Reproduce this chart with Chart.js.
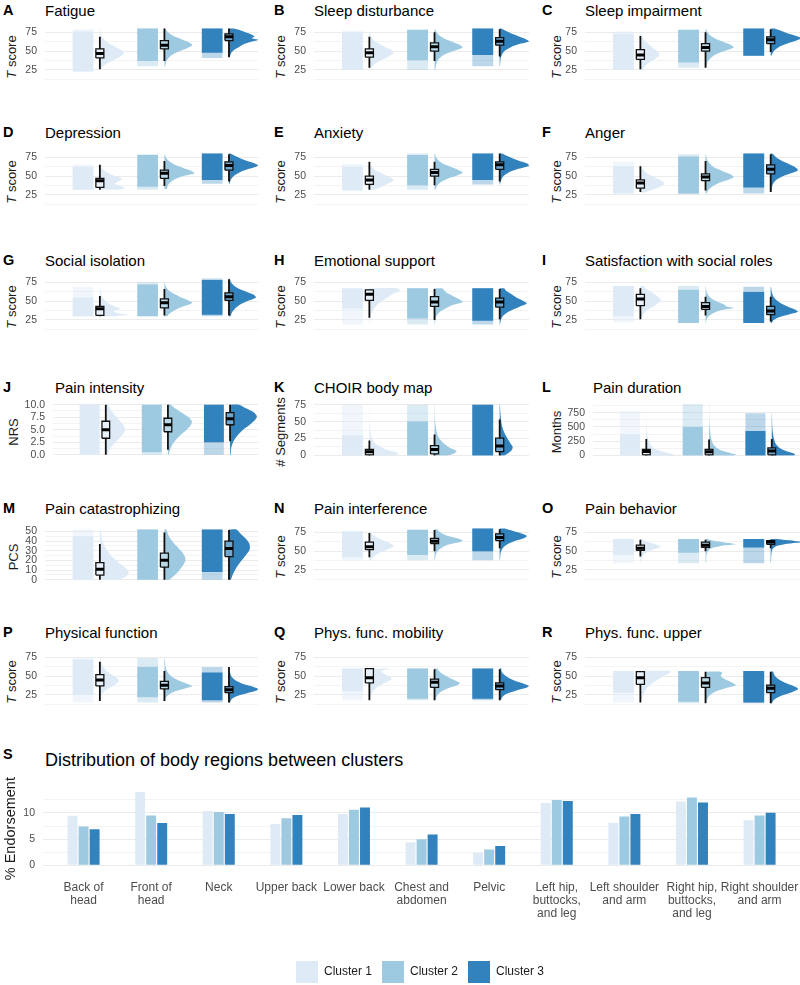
<!DOCTYPE html>
<html><head><meta charset="utf-8">
<script src="https://cdn.jsdelivr.net/npm/chart.js@4.4.1/dist/chart.umd.min.js"></script>
<style>
html,body{margin:0;padding:0;}
body{width:800px;height:985px;position:relative;overflow:hidden;background:#fff;font-family:"Liberation Sans",Arial,sans-serif;}
.lt{position:absolute;font-weight:bold;font-size:14.5px;line-height:15px;color:#000;}
.tt{position:absolute;font-size:15px;line-height:15px;color:#000;white-space:nowrap;}
.ax{position:absolute;font-size:13px;line-height:13px;color:#1a1a1a;white-space:nowrap;transform:translate(-50%,-50%) rotate(-90deg);}
.big{position:absolute;font-size:18px;line-height:18px;color:#000;white-space:nowrap;}
</style></head><body>
<script>
// ---------------- DATA ----------------
const clusterLabels = ['Cluster 1', 'Cluster 2', 'Cluster 3'];
const panelLetters = ['A','B','C','D','E','F','G','H','I','J','K','L','M','N','O','P','Q','R'];
const panelTitles = ['Fatigue','Sleep disturbance','Sleep impairment','Depression','Anxiety','Anger',
  'Social isolation','Emotional support','Satisfaction with social roles','Pain intensity','CHOIR body map',
  'Pain duration','Pain catastrophizing','Pain interference','Pain behavior','Physical function',
  'Phys. func. mobility','Phys. func. upper'];
const panelAxisTitles = ['T score','T score','T score','T score','T score','T score','T score','T score','T score',
  'NRS','# Segments','Months','PCS','T score','T score','T score','T score','T score'];
const panelScaleKind = ['T','T','T','T','T','T','T','T','T','NRS','SEG','MON','PCS','T','T','T','T','T'];

// tick labels / gridlines per scale kind
const tTicks = [25, 50, 75];             const tGrid = [12.5, 25, 37.5, 50, 62.5, 75];
const nrsTicks = [0, 2.5, 5, 7.5, 10];   const nrsGrid = [0, 1.25, 2.5, 3.75, 5, 6.25, 7.5, 8.75, 10];
const segTicks = [0, 25, 50, 75];        const segGrid = [0, 12.5, 25, 37.5, 50, 62.5, 75];
const monTicks = [0, 250, 500, 750];     const monGrid = [0, 125, 250, 375, 500, 625, 750, 875];
const pcsTicks = [0, 10, 20, 30, 40, 50]; const pcsGrid = [0, 5, 10, 15, 20, 25, 30, 35, 40, 45, 50];

// box stats per cluster: [lower whisker, Q1, median, Q3, upper whisker]
// cloud per cluster: [min, dense low, dense high, max]
// violin per cluster: [[value, relative density], ...]
const boxA = [[26,41,47,53,69],[37,53,58,64,80],[42,64,69,73,80]];
const cloudA = [[23,23,76,79],[30,37,80,80],[41,48,80,80]];
const violinA = [
 [[25,0.02],[30,0.1],[35,0.3],[40,0.55],[45,0.75],[48,0.8],[52,0.7],[56,0.5],[60,0.3],[65,0.15],[70,0.06],[75,0.03],[80,0.01]],
 [[30,0.02],[35,0.05],[40,0.12],[45,0.25],[50,0.5],[55,0.8],[58,0.93],[62,0.8],[66,0.55],[70,0.3],[75,0.12],[80,0.03]],
 [[42,0.02],[48,0.08],[52,0.18],[56,0.35],[60,0.55],[63,0.8],[65,0.97],[67,0.75],[69,0.85],[72,0.75],[75,0.55],[78,0.35],[80,0.15]]];
const boxB = [[28,42,48,53,69],[37,50,56,61,75],[43,58,63,68,79]];
const cloudB = [[25,25,75,77],[25,38,78,79],[30,45,80,80]];
const violinB = [
 [[25,0.03],[30,0.1],[35,0.25],[40,0.5],[45,0.72],[48,0.8],[52,0.72],[56,0.5],[60,0.3],[65,0.13],[70,0.05],[77,0.01]],
 [[25,0.02],[30,0.04],[35,0.08],[40,0.15],[45,0.3],[50,0.6],[55,0.93],[58,0.85],[62,0.6],[66,0.35],[70,0.18],[75,0.07],[79,0.02]],
 [[30,0.01],[40,0.03],[45,0.07],[50,0.15],[55,0.35],[60,0.7],[63,0.97],[66,0.85],[70,0.6],[74,0.35],[78,0.15],[80,0.05]]];
const boxC = [[26,39,45,52,70],[28,50,55,60,75],[49,60,65,69,79]];
const cloudC = [[25,25,73,76],[28,35,78,79],[44,44,80,80]];
const violinC = [
 [[25,0.05],[30,0.15],[35,0.3],[40,0.5],[45,0.63],[50,0.55],[55,0.4],[60,0.25],[65,0.12],[70,0.05],[76,0.01]],
 [[28,0.02],[35,0.06],[40,0.15],[45,0.3],[50,0.6],[55,0.93],[58,0.85],[62,0.6],[66,0.35],[70,0.18],[75,0.06],[79,0.02]],
 [[44,0.02],[50,0.1],[55,0.25],[60,0.55],[64,0.85],[67,1.0],[70,0.85],[73,0.6],[76,0.4],[79,0.2],[80,0.1]]];
const boxD = [[32,35,44,47,65],[37,47,54,58,70],[43,58,64,69,79]];
const cloudD = [[32,32,62,65],[32,36,78,79],[40,45,80,80]];
const violinD = [
 [[32,0.6],[34,0.83],[37,0.7],[40,0.5],[43,0.6],[46,0.75],[49,0.6],[52,0.4],[56,0.2],[60,0.08],[65,0.02]],
 [[33,0.08],[36,0.1],[40,0.15],[45,0.3],[50,0.6],[54,1.0],[57,0.9],[61,0.6],[65,0.35],[70,0.15],[75,0.05],[79,0.01]],
 [[40,0.02],[45,0.06],[50,0.15],[55,0.35],[60,0.7],[64,0.97],[67,0.85],[70,0.6],[74,0.35],[78,0.15],[80,0.05]]];
const boxE = [[32,39,45,50,69],[38,50,55,59,69],[43,59,65,69,80]];
const cloudE = [[31,31,62,66],[32,38,78,80],[39,45,80,80]];
const violinE = [
 [[32,0.15],[36,0.4],[40,0.6],[44,0.8],[47,0.75],[50,0.6],[54,0.4],[58,0.2],[62,0.08],[66,0.02]],
 [[32,0.02],[37,0.08],[42,0.2],[47,0.45],[52,0.8],[55,0.93],[58,0.8],[62,0.55],[66,0.3],[70,0.15],[75,0.05],[80,0.01]],
 [[39,0.01],[45,0.05],[50,0.12],[55,0.3],[60,0.65],[64,0.97],[67,0.9],[70,0.65],[74,0.4],[78,0.18],[80,0.08]]];
const boxF = [[29,34,41,45,63],[31,44,49,53,70],[29,53,59,65,79]];
const cloudF = [[27,27,63,69],[26,27,76,79],[27,35,80,80]];
const violinF = [
 [[28,0.1],[32,0.4],[36,0.65],[40,0.8],[44,0.7],[48,0.5],[52,0.3],[56,0.15],[60,0.07],[65,0.02],[69,0.01]],
 [[27,0.03],[32,0.1],[37,0.25],[42,0.5],[46,0.8],[49,0.93],[53,0.8],[57,0.55],[61,0.3],[66,0.15],[72,0.05],[79,0.01]],
 [[29,0.02],[35,0.04],[40,0.08],[45,0.18],[50,0.4],[55,0.75],[58,0.9],[62,0.8],[66,0.6],[70,0.38],[75,0.18],[80,0.05]]];
const boxG = [[30,31,40,43,57],[31,41,48,53,66],[31,51,56,61,79]];
const cloudG = [[30,30,55,69],[30,30,72,75],[30,32,78,80]];
const violinG = [
 [[30,0.5],[32,0.93],[34,0.6],[37,0.45],[40,0.7],[43,0.5],[47,0.3],[52,0.15],[57,0.06],[63,0.02],[69,0.01]],
 [[30,0.1],[33,0.15],[37,0.3],[42,0.55],[46,0.85],[48,0.93],[52,0.75],[56,0.5],[60,0.3],[65,0.12],[70,0.04],[75,0.01]],
 [[30,0.05],[35,0.1],[40,0.2],[45,0.35],[50,0.6],[55,0.9],[58,0.85],[62,0.6],[66,0.35],[70,0.18],[75,0.07],[80,0.02]]];
const boxH = [[28,51,59,65,65],[25,43,49,56,66],[26,42,49,54,66]];
const cloudH = [[19,40,67,67],[19,27,67,67],[19,24,67,67]];
const violinH = [
 [[19,0.01],[25,0.02],[30,0.04],[35,0.08],[40,0.15],[45,0.25],[50,0.4],[55,0.6],[60,0.8],[63,1.0],[67,0.95]],
 [[19,0.01],[25,0.03],[30,0.06],[35,0.15],[40,0.35],[45,0.6],[49,0.93],[53,0.8],[57,0.6],[61,0.4],[65,0.3],[67,0.25]],
 [[19,0.01],[25,0.04],[30,0.1],[35,0.25],[40,0.5],[45,0.8],[47,0.9],[51,0.75],[55,0.55],[60,0.35],[64,0.2],[67,0.15]]];
const boxI = [[26,44,53,59,67],[31,39,43,48,56],[23,32,37,43,56]];
const cloudI = [[22,30,70,70],[21,21,65,70],[21,21,62,69]];
const violinI = [
 [[26,0.02],[30,0.06],[35,0.15],[40,0.3],[45,0.5],[50,0.65],[53,0.67],[57,0.55],[62,0.35],[66,0.2],[70,0.1]],
 [[21,0.01],[25,0.03],[30,0.1],[34,0.25],[38,0.5],[41,0.93],[43,0.7],[46,0.6],[50,0.35],[55,0.15],[60,0.06],[65,0.02],[70,0.01]],
 [[21,0.03],[25,0.1],[29,0.3],[33,0.65],[36,0.9],[39,0.8],[43,0.55],[47,0.35],[52,0.18],[57,0.08],[63,0.03],[69,0.01]]];
const boxJ = [[0,3.3,5,6.7,10],[1,4.6,6,7.3,10],[2.7,6,7.2,8.4,10]];
const cloudJ = [[0,0,10,10],[0,0.5,10,10],[0,2.5,10,10]];
const violinJ = [
 [[0,0.08],[1,0.12],[2,0.25],[3,0.42],[4,0.58],[5,0.67],[6,0.6],[7,0.45],[8,0.3],[9,0.17],[10,0.08]],
 [[0,0.02],[1,0.08],[2,0.15],[3,0.28],[4,0.45],[5,0.65],[6,0.8],[6.7,0.83],[7.5,0.72],[8.5,0.45],[9.5,0.2],[10,0.1]],
 [[0,0.02],[1,0.03],[2,0.07],[3,0.15],[4,0.28],[5,0.45],[6,0.68],[7,0.87],[7.7,0.93],[8.5,0.82],[9.3,0.55],[10,0.3]]];
const boxK = [[0,0.9,5.3,8.8,22],[0,2.2,8.8,14.5,31],[0,5.7,14,25.5,53]];
const cloudK = [[0,0,30,75],[0,0,50,75],[0,0,75,75]];
const violinK = [
 [[0,0.7],[2,0.97],[5,0.85],[8,0.6],[12,0.4],[16,0.25],[20,0.15],[25,0.09],[30,0.05],[40,0.02],[50,0.01],[75,0.005]],
 [[0,0.4],[3,0.65],[6,0.73],[9,0.62],[13,0.45],[18,0.3],[24,0.18],[30,0.1],[40,0.05],[50,0.02],[60,0.01],[75,0.005]],
 [[0,0.15],[4,0.3],[8,0.4],[12,0.43],[16,0.38],[22,0.3],[28,0.22],[35,0.14],[45,0.07],[55,0.04],[65,0.02],[75,0.01]]];
const boxL = [[0,10,68,105,288],[0,10,63,105,278],[0,10,79,131,288]];
const cloudL = [[0,0,370,780],[0,0,500,900],[0,0,430,740]];
const violinL = [
 [[0,0.9],[15,0.97],[40,0.75],[80,0.45],[120,0.28],[170,0.17],[250,0.09],[350,0.04],[500,0.015],[780,0.005]],
 [[0,0.85],[15,0.93],[40,0.75],[80,0.45],[130,0.27],[200,0.14],[300,0.07],[450,0.03],[600,0.01],[900,0.005]],
 [[0,0.75],[20,0.8],[50,0.65],[90,0.42],[140,0.25],[200,0.14],[300,0.07],[450,0.025],[740,0.005]]];
const boxM = [[0,4.9,11,17.8,37],[0,13.2,20.2,27.6,49],[0,24,32.5,40,51.5]];
const cloudM = [[0,0,45,52],[0,0,52,52],[0,8,52,52]];
const violinM = [
 [[0,0.6],[3,0.85],[7,0.97],[11,0.9],[15,0.75],[20,0.55],[25,0.38],[30,0.25],[35,0.15],[42,0.07],[52,0.02]],
 [[0,0.15],[5,0.35],[10,0.5],[15,0.62],[20,0.7],[25,0.67],[30,0.55],[35,0.4],[40,0.26],[45,0.15],[52,0.06]],
 [[0,0.06],[5,0.12],[10,0.2],[15,0.3],[20,0.42],[25,0.55],[30,0.67],[34,0.7],[38,0.67],[43,0.55],[48,0.38],[52,0.25]]];
const boxN = [[42,52,56,62,74],[50,60,63,67,78],[54,64,68,73,79]];
const cloudN = [[38,42,76,77],[38,45,78,79],[38,50,80,80]];
const violinN = [
 [[38,0.05],[42,0.12],[46,0.25],[50,0.45],[54,0.7],[57,0.8],[60,0.7],[64,0.45],[68,0.25],[72,0.1],[77,0.03]],
 [[38,0.01],[45,0.04],[50,0.1],[55,0.25],[59,0.5],[62,0.85],[64,0.93],[67,0.75],[70,0.45],[74,0.22],[79,0.07]],
 [[38,0.01],[45,0.02],[50,0.05],[55,0.12],[60,0.3],[64,0.55],[67,0.8],[70,0.9],[73,0.75],[76,0.5],[79,0.25],[80,0.15]]];
const boxO = [[43,51,54,58,65],[50,55,58,62,65],[54,59,62,64,65]];
const cloudO = [[34,45,66,66],[34,48,66,66],[34,55,66,66]];
const violinO = [
 [[35,0.02],[42,0.05],[47,0.15],[51,0.35],[54,0.55],[56,0.67],[59,0.5],[62,0.25],[65,0.08],[66,0.03]],
 [[35,0.02],[45,0.03],[50,0.08],[54,0.2],[57,0.5],[59,1.0],[61,0.7],[63,0.35],[65,0.12],[66,0.05]],
 [[35,0.01],[45,0.02],[52,0.05],[56,0.15],[59,0.45],[61,0.85],[62,1.0],[63.5,0.8],[65,0.4],[66,0.2]]];
const boxP = [[17,37,45,52,69],[17,33,38,43,57],[15,28,32,36,62]];
const cloudP = [[15,25,72,74],[15,22,62,74],[15,18,55,62]];
const violinP = [
 [[17,0.02],[25,0.06],[30,0.15],[35,0.35],[40,0.55],[44,0.63],[48,0.55],[52,0.4],[57,0.22],[63,0.1],[69,0.04],[74,0.01]],
 [[16,0.02],[22,0.06],[27,0.2],[31,0.45],[35,0.8],[37,0.93],[40,0.75],[44,0.5],[48,0.3],[53,0.15],[60,0.05],[74,0.01]],
 [[15,0.03],[20,0.1],[24,0.3],[28,0.65],[31,0.93],[33,0.97],[36,0.8],[40,0.45],[45,0.2],[50,0.08],[56,0.03],[62,0.01]]];
const boxQ = [[18,41,48,60,60],[18,35,42,46,59],[18,32,37,41,59]];
const cloudQ = [[18,30,60,60],[18,20,60,60],[18,20,60,60]];
const violinQ = [
 [[18,0.02],[25,0.06],[30,0.12],[35,0.25],[40,0.45],[45,0.7],[48,0.73],[52,0.55],[56,0.4],[59,0.6],[60,0.7]],
 [[18,0.02],[24,0.08],[29,0.2],[34,0.45],[38,0.75],[41,0.83],[45,0.65],[50,0.4],[55,0.2],[59,0.1],[60,0.12]],
 [[18,0.03],[23,0.1],[27,0.25],[31,0.55],[35,0.9],[37,0.97],[40,0.8],[44,0.5],[49,0.25],[54,0.1],[58,0.05],[60,0.06]]];
const boxR = [[15,39,48,56,56],[14,35,41,48,56],[14,28,34,38,56]];
const cloudR = [[15,28,57,57],[14,16,57,57],[14,15,57,57]];
const violinR = [
 [[15,0.02],[22,0.06],[28,0.12],[33,0.2],[38,0.3],[42,0.45],[46,0.6],[50,0.75],[53,0.9],[56,1.0],[57,0.95]],
 [[14,0.02],[20,0.06],[25,0.15],[30,0.35],[34,0.65],[38,1.0],[42,0.85],[46,0.65],[50,0.5],[54,0.55],[56,0.5]],
 [[14,0.03],[19,0.12],[24,0.35],[28,0.65],[32,0.88],[34,0.9],[37,0.75],[41,0.5],[45,0.3],[50,0.15],[54,0.1],[56,0.08]]];

// Panel S: % endorsement of body regions
const bodyRegions = [['Back of','head'],['Front of','head'],['Neck'],['Upper back'],['Lower back'],
  ['Chest and','abdomen'],['Pelvic'],['Left hip,','buttocks,','and leg'],['Left shoulder','and arm'],
  ['Right hip,','buttocks,','and leg'],['Right shoulder','and arm']];
const endorseCluster1 = [9.47, 14.0, 10.35, 7.9, 9.8, 4.4, 2.4, 11.9, 8.1, 12.2, 8.6];
const endorseCluster2 = [7.4, 9.5, 10.2, 9.0, 10.6, 5.0, 3.0, 12.45, 9.3, 12.95, 9.5];
const endorseCluster3 = [6.9, 8.1, 9.8, 9.6, 11.05, 5.9, 3.7, 12.3, 9.8, 12.0, 10.05];
const barTicks = [0, 5, 10];
const barGrid = [0, 2.5, 5, 7.5, 10, 12.5];

// ---------------- STYLE / LAYOUT ----------------
const FF = '"Liberation Sans", Arial, sans-serif';
Chart.defaults.font.family = FF;
const clusterColors = ['#deebf7', '#9ecae1', '#3182bd'];
const sparseColors = ['rgba(222,235,247,0.45)', 'rgba(158,202,225,0.38)', 'rgba(49,130,189,0.32)'];
const boxFills = ['#e8f1f9', '#bbdaea', '#6fa7d1'];
const VW = 0.465, BW = 0.062, CLOUD_L = -0.42, CLOUD_R = -0.1;
const colX0 = [0, 270, 539], colPlotL = [45, 314, 585], colPlotR = [258, 529, 800];
const colLetterX = [3, 274, 542], colAxisX = [11, 280, 556];
const rowCapTop = [5, 127, 255, 382, 503, 627];
const plotLeftOverride = {9: 53, 11: 593};

const scaleDefs = {
  T:   {min: 10.7, max: 82.1, ticks: tTicks, grid: tGrid, fmt: v => String(v)},
  NRS: {min: -0.18, max: 10.54, ticks: nrsTicks, grid: nrsGrid, fmt: v => v.toFixed(1)},
  SEG: {min: -0.4, max: 79, ticks: segTicks, grid: segGrid, fmt: v => String(v)},
  MON: {min: -5, max: 939, ticks: monTicks, grid: monGrid, fmt: v => String(v)},
  PCS: {min: -0.9, max: 54.6, ticks: pcsTicks, grid: pcsGrid, fmt: v => String(v)}
};

const panelBoxes = [boxA,boxB,boxC,boxD,boxE,boxF,boxG,boxH,boxI,boxJ,boxK,boxL,boxM,boxN,boxO,boxP,boxQ,boxR];
const panelClouds = [cloudA,cloudB,cloudC,cloudD,cloudE,cloudF,cloudG,cloudH,cloudI,cloudJ,cloudK,cloudL,cloudM,cloudN,cloudO,cloudP,cloudQ,cloudR];
const panelViolins = [violinA,violinB,violinC,violinD,violinE,violinF,violinG,violinH,violinI,violinJ,violinK,violinL,violinM,violinN,violinO,violinP,violinQ,violinR];

function addDiv(cls, html, left, top) {
  const d = document.createElement('div');
  d.className = cls; d.innerHTML = html;
  d.style.left = left + 'px'; d.style.top = top + 'px';
  document.body.appendChild(d);
  return d;
}
function rectDs(x1, x2, y1, y2, fillColor, order, stroke, sw) {
  return {data: [{x:x1,y:y1},{x:x2,y:y1},{x:x2,y:y2},{x:x1,y:y2},{x:x1,y:y1}],
    fill: 'shape', backgroundColor: fillColor, borderColor: stroke || 'rgba(0,0,0,0)',
    borderWidth: sw || 0, pointRadius: 0, tension: 0, order};
}

function makePanel(k) {
  const r = Math.floor(k / 3), c = k % 3;
  const x0 = colX0[c];
  const pl = plotLeftOverride[k] !== undefined ? plotLeftOverride[k] : colPlotL[c];
  const pr = colPlotR[c];
  const top = r * 125;
  const sd = scaleDefs[panelScaleKind[k]];

  addDiv('lt', panelLetters[k], colLetterX[c], rowCapTop[r] - 2);
  addDiv('tt', panelTitles[k], pl + (k === 9 ? 2 : 0), rowCapTop[r] - 2);
  const at = panelAxisTitles[k];
  addDiv('ax', at.startsWith('T ') ? '<i>T</i>' + at.slice(1) : at, colAxisX[c] + (k === 9 || k === 12 ? 2 : 0), top + 57);

  const cv = document.createElement('canvas');
  const W = pr - x0, H = 95;
  cv.width = W; cv.height = H;
  cv.style.cssText = `position:absolute;left:${x0}px;top:${top}px;width:${W}px;height:${H}px;`;
  document.body.appendChild(cv);

  const datasets = [];
  for (let i = 0; i < 3; i++) {
    const cx = i + 1;
    const cl = panelClouds[k][i], b = panelBoxes[k][i], v = panelViolins[k][i];
    datasets.push(rectDs(cx + CLOUD_L, cx + CLOUD_R, cl[0], cl[3], sparseColors[i], 6));
    datasets.push(rectDs(cx + CLOUD_L, cx + CLOUD_R, cl[1], cl[2], clusterColors[i], 5));
    const vp = [{x: cx, y: v[0][0]}].concat(v.map(p => ({x: cx + p[1] * VW, y: p[0]})), [{x: cx, y: v[v.length - 1][0]}]);
    datasets.push({data: vp, fill: 'shape', backgroundColor: clusterColors[i], borderColor: 'rgba(0,0,0,0)',
      borderWidth: 0, pointRadius: 0, tension: 0.25, order: 4});
    datasets.push({data: [{x: cx, y: b[0]}, {x: cx, y: b[4]}], borderColor: '#111', borderWidth: 1.8,
      pointRadius: 0, fill: false, order: 3});
    datasets.push(rectDs(cx - BW, cx + BW, b[1], b[3], boxFills[i], 2, '#111', 1.3));
    datasets.push({data: [{x: cx - BW, y: b[2]}, {x: cx + BW, y: b[2]}], borderColor: '#000', borderWidth: 3,
      pointRadius: 0, fill: false, order: 1, borderCapStyle: 'butt'});
  }

  new Chart(cv, {
    type: 'line',
    data: {datasets},
    options: {
      responsive: false, animation: false, events: [],
      layout: {padding: {top: 27, bottom: 8, left: 0, right: 0}},
      plugins: {legend: {display: false}, tooltip: {enabled: false}},
      scales: {
        x: {type: 'linear', min: 0.15, max: 3.45, display: false},
        y: {
          type: 'linear', min: sd.min, max: sd.max,
          afterFit: s => { s.width = pl - x0; },
          afterBuildTicks: s => { s.ticks = sd.grid.map(val => ({value: val})); },
          ticks: {autoSkip: false, padding: 8, color: '#4d4d4d', font: {size: 10.5, family: FF},
            callback: val => sd.ticks.includes(val) ? sd.fmt(val) : ''},
          grid: {drawTicks: false, color: '#ebebeb',
            lineWidth: ctx => (ctx.tick && sd.ticks.includes(ctx.tick.value)) ? 1 : 0.6},
          border: {display: false}
        }
      }
    }
  });
}
for (let k = 0; k < 18; k++) makePanel(k);

// ---------------- PANEL S ----------------
addDiv('lt', 'S', 3, 747);
addDiv('big', 'Distribution of body regions between clusters', 45, 750.5);

const wrap = document.createElement('div');
wrap.style.cssText = 'position:absolute;left:0;top:774px;width:800px;height:211px;overflow:hidden;';
document.body.appendChild(wrap);
const bcv = document.createElement('canvas');
bcv.width = 840; bcv.height = 219;
bcv.style.cssText = 'position:absolute;left:0;top:0;width:840px;height:219px;';
wrap.appendChild(bcv);

const endorseSeries = [endorseCluster1, endorseCluster2, endorseCluster3];
new Chart(bcv, {
  type: 'bar',
  data: {
    datasets: endorseSeries.map((s, i) => ({
      label: clusterLabels[i],
      data: s.map((val, j) => ({x: j, y: val})),
      backgroundColor: clusterColors[i], borderWidth: 0,
      categoryPercentage: 0.49, barPercentage: 0.9
    }))
  },
  options: {
    responsive: false, animation: false, events: [],
    layout: {padding: {top: 7, left: 0, right: 0, bottom: 0}},
    plugins: {
      tooltip: {enabled: false},
      legend: {position: 'bottom', align: 'center',
        labels: {boxWidth: 22, boxHeight: 22, padding: 10, color: '#1a1a1a', font: {size: 12, family: FF}}}
    },
    scales: {
      x: {type: 'linear', min: -0.6, max: 11.19, offset: false,
        grid: {display: false, offset: false}, border: {display: false},
        afterBuildTicks: s => { s.ticks = bodyRegions.map((_, j) => ({value: j})); },
        afterFit: s => { s.height = 82; },
        ticks: {autoSkip: false, maxRotation: 0, minRotation: 0, padding: 4, color: '#4d4d4d',
          font: {size: 12, family: FF, lineHeight: 1.1},
          callback: val => bodyRegions[val]}
      },
      y: {min: -0.7, max: 14.7,
        afterFit: s => { s.width = 43; },
        afterBuildTicks: s => { s.ticks = barGrid.map(val => ({value: val})); },
        ticks: {autoSkip: false, padding: 8, color: '#4d4d4d', font: {size: 10.5, family: FF},
          callback: val => barTicks.includes(val) ? String(val) : ''},
        grid: {drawTicks: false, color: '#ebebeb',
          lineWidth: ctx => (ctx.tick && barTicks.includes(ctx.tick.value)) ? 1 : 0.6},
        border: {display: false},
        title: {display: true, text: '% Endorsement', color: '#1a1a1a', font: {size: 14.5, family: FF}, padding: {top: 2, bottom: 0}}
      }
    }
  }
});
</script>
</body></html>
